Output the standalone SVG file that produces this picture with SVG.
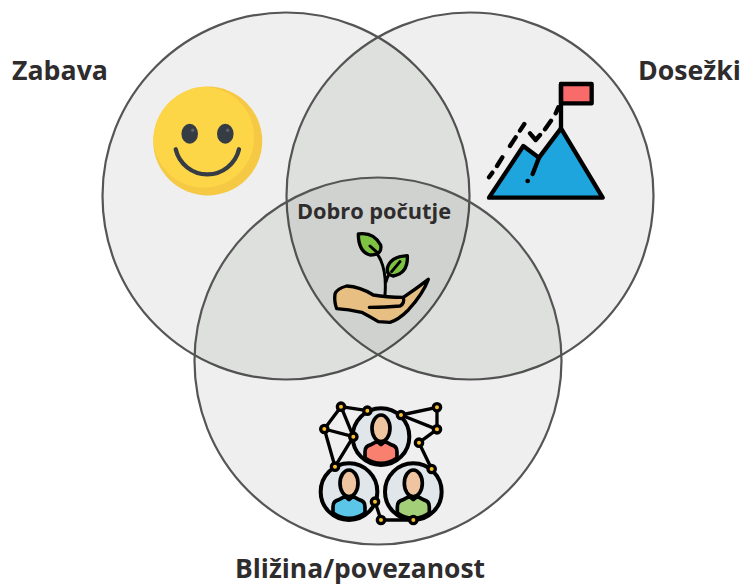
<svg xmlns="http://www.w3.org/2000/svg" width="742" height="584" viewBox="0 0 742 584">
<style>
.ring{fill:#0c1c0c;fill-opacity:.07;stroke:#555;stroke-width:2.2}
.label{font-family:"Open Sans","Liberation Sans",sans-serif;font-weight:700;fill:#2f2c2d;font-size:27px}
.ink{stroke:#000;stroke-linecap:round;stroke-linejoin:round;fill:none}
.node{fill:#fbc02d;stroke:#000;stroke-width:10}
</style>
<defs>
<g id="person">
<circle r="85" fill="#e0e6ea" stroke="#000" stroke-width="12"/>
<path d="M-48,64V45Q-48,28-30,24L-12,14 0,24 12,14 30,24Q48,28 48,45V64Q25,80 0,80Q-25,80-48,64Z" fill="currentColor" stroke="#000" stroke-width="11" stroke-linejoin="round"/>
<ellipse cy="-25" rx="27" ry="40" fill="#eec5a0" stroke="#000" stroke-width="11"/>
</g>
<clipPath id="face"><circle cx="207.7" cy="141" r="54.5"/></clipPath>
</defs>
<g id="venn">
<circle class="ring" cx="286" cy="196" r="183.5"/>
<circle class="ring" cx="470" cy="196" r="183.5"/>
<circle class="ring" cx="378" cy="361" r="183.5"/>
</g>
<g id="zabava">
<text class="label" x="12" y="80" textLength="96" lengthAdjust="spacingAndGlyphs">Zabava</text>
<circle cx="207.7" cy="141" r="54.5" fill="#f6c945"/>
<circle cx="203.7" cy="137.3" r="50.4" fill="#fdd648" clip-path="url(#face)"/>
<ellipse cx="189.7" cy="133.7" rx="8.3" ry="10" fill="#353c44"/>
<ellipse cx="225.3" cy="133.7" rx="8.3" ry="10" fill="#353c44"/>
<circle cx="192.7" cy="130.3" r="1.7" fill="#5d636b"/>
<circle cx="227.7" cy="130.3" r="1.7" fill="#5d636b"/>
<path d="M175.7,149.3A32.5,32.5 0 0 0 239,149.3" fill="none" stroke="#353c44" stroke-width="4.3" stroke-linecap="round"/>
</g>
<g id="dosezki">
<text class="label" x="638" y="80" textLength="103" lengthAdjust="spacingAndGlyphs">Dosežki</text>
<g transform="translate(475,70) scale(.3333)">
<path d="M42,383L145,228 192,263 258,175 383,383Z" class="ink" style="fill:#1ea5dd" stroke-width="13"/>
<rect x="258" y="42" width="92" height="58" fill="#f96b6b" stroke="#000" stroke-width="13" stroke-linejoin="round"/>
<path class="ink" stroke-width="13" d="M258,175V42M192,263L173,312M42,322L52,308M66,288L82,262M105,228L122,202M135,182L148,162M165,190L182,210 195,195M210,178L228,152M242,130L250,112"/>
<circle cx="158" cy="333" r="7" fill="#000"/>
</g>
</g>
<g id="dobro-pocutje">
<text class="label" x="297" y="219" textLength="154" lengthAdjust="spacingAndGlyphs" style="font-size:22px">Dobro počutje</text>
<g transform="translate(290,190) scale(.3333)">
<path class="ink" stroke-width="10" style="fill:#e8bf82" d="M135,312Q140,296 170,288Q210,290 250,315Q290,322 340,322Q380,295 415,268Q400,310 355,360Q325,390 300,397L265,395Q240,380 215,367Q175,358 140,356Q132,335 135,312Z"/>
<path class="ink" stroke-width="10" d="M238,352Q290,352 330,348Q345,340 340,322"/>
<path class="ink" stroke-width="9" d="M285,315Q290,250 272,210Q260,185 240,168M287,278Q295,245 330,215"/>
<path class="ink" stroke-width="10" style="fill:#7ec242" d="M205,132Q250,125 272,165Q278,195 240,195Q205,185 205,132Z"/>
<path class="ink" stroke-width="10" style="fill:#7ec242" d="M352,197Q355,250 310,258Q290,255 292,235Q300,200 352,197Z"/>
<path class="ink" stroke-width="9" d="M240,168L262,188M330,215L305,245"/>
</g>
</g>
<g id="blizina">
<text class="label" x="235" y="577.5" textLength="250" lengthAdjust="spacingAndGlyphs">Bližina/povezanost</text>
<g transform="translate(310,395) scale(.3333)">
<path class="ink" stroke-width="10" d="M43,102L93,35 172,47M93,35L130,125M43,102L130,125M43,102L75,215M130,125L75,215M273,60L381,37M273,60L381,103M381,37V103M381,103L327,143 365,222M195,320L213,375H310"/>
<use href="#person" x="213" y="125" style="color:#f9806f"/>
<use href="#person" x="117" y="290" style="color:#5cc6e8"/>
<use href="#person" x="310" y="290" style="color:#a3cf78"/>
<g class="node">
<circle cx="93" cy="35" r="11"/><circle cx="172" cy="47" r="11"/><circle cx="273" cy="60" r="11"/><circle cx="381" cy="37" r="11"/><circle cx="381" cy="103" r="11"/><circle cx="327" cy="143" r="11"/><circle cx="365" cy="222" r="11"/><circle cx="43" cy="102" r="11"/><circle cx="130" cy="125" r="11"/><circle cx="75" cy="215" r="11"/><circle cx="195" cy="320" r="11"/><circle cx="213" cy="375" r="11"/><circle cx="310" cy="375" r="11"/>
</g>
</g>
</g>
</svg>
